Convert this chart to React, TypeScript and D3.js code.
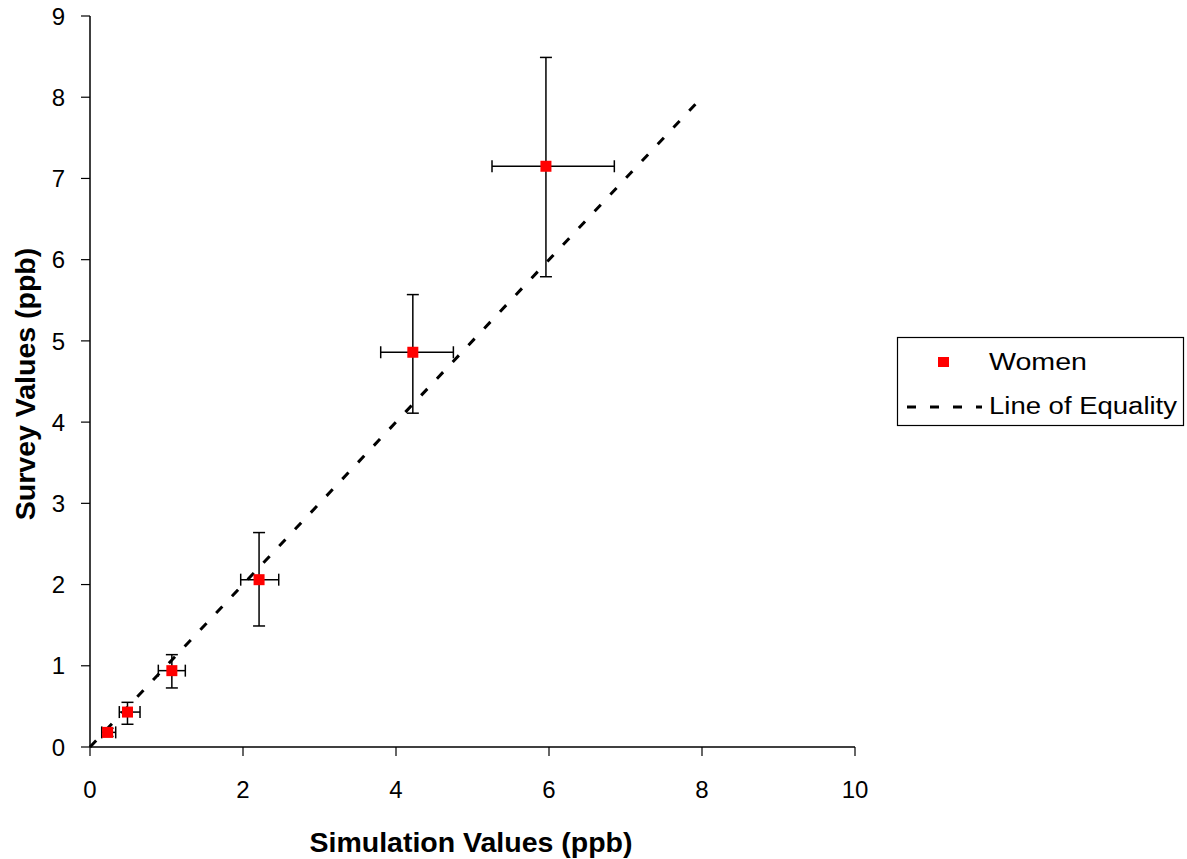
import React from "react";
import * as d3 from "d3";

// Survey vs simulation values (ppb), women; error bars are asymmetric
const simValues = [0.23, 0.49, 1.07, 2.21, 4.22, 5.96];
const surveyValues = [0.18, 0.43, 0.94, 2.06, 4.86, 7.15];
const simLow = [0.153, 0.383, 0.893, 1.97, 3.8, 5.255];
const simHigh = [0.336, 0.654, 1.246, 2.467, 4.75, 6.854];
const surveyLow = [0.13, 0.28, 0.727, 1.49, 4.11, 5.79];
const surveyHigh = [0.23, 0.55, 1.137, 2.64, 5.57, 8.49];

const equalityLine = [0, 8];
const xTicks = [0, 2, 4, 6, 8, 10];
const yTicks = [0, 1, 2, 3, 4, 5, 6, 7, 8, 9];

const W = 1187;
const H = 859;
const font = "'Liberation Sans', Arial, sans-serif";

export default function App() {
    const x = d3.scaleLinear().domain([0, 10]).range([90, 855]);
    const y = d3.scaleLinear().domain([0, 9]).range([747, 16]);
    const line = d3.line<number>().x((d) => x(d)).y((d) => y(d));
    const cap = 6;

    const points = simValues.map((v, i) => ({
        sx: v,
        sy: surveyValues[i],
        x0: simLow[i],
        x1: simHigh[i],
        y0: surveyLow[i],
        y1: surveyHigh[i],
    }));

    return (
        <svg
            width={W}
            height={H}
            style={{ position: "absolute", left: 0, top: 0, background: "#fff" }}
            fontFamily={font}
        >
            {/* y axis */}
            <line x1={x(0)} x2={x(0)} y1={y(0)} y2={y(9)} stroke="#000" strokeWidth={1.5} />
            {yTicks.map((t) => (
                <g key={"y" + t}>
                    <line x1={x(0) - 9} x2={x(0)} y1={y(t)} y2={y(t)} stroke="#000" strokeWidth={1.2} />
                    <text x={65} y={y(t)} dy="0.36em" textAnchor="end" fontSize={24}>
                        {t}
                    </text>
                </g>
            ))}
            {/* x axis */}
            <line x1={x(0)} x2={x(10)} y1={y(0)} y2={y(0)} stroke="#000" strokeWidth={1.5} />
            {xTicks.map((t) => (
                <g key={"x" + t}>
                    <line x1={x(t)} x2={x(t)} y1={y(0)} y2={y(0) + 9} stroke="#000" strokeWidth={1.2} />
                    <text x={x(t)} y={798} textAnchor="middle" fontSize={24}>
                        {t}
                    </text>
                </g>
            ))}
            <text x={471} y={852} textAnchor="middle" fontSize={28.5} fontWeight="bold">
                Simulation Values (ppb)
            </text>
            <text
                transform="translate(35, 384) rotate(-90)"
                textAnchor="middle"
                fontSize={28.5}
                fontWeight="bold"
            >
                Survey Values (ppb)
            </text>

            {/* line of equality */}
            <path
                d={line(equalityLine) || ""}
                fill="none"
                stroke="#000"
                strokeWidth={3}
                strokeDasharray="9,14"
            />

            {/* error bars and markers */}
            {points.map((p, i) => (
                <g key={"p" + i} stroke="#000" strokeWidth={1.5}>
                    <line x1={x(p.sx)} x2={x(p.sx)} y1={y(p.y0)} y2={y(p.y1)} />
                    <line x1={x(p.sx) - cap} x2={x(p.sx) + cap} y1={y(p.y0)} y2={y(p.y0)} />
                    <line x1={x(p.sx) - cap} x2={x(p.sx) + cap} y1={y(p.y1)} y2={y(p.y1)} />
                    <line x1={x(p.x0)} x2={x(p.x1)} y1={y(p.sy)} y2={y(p.sy)} />
                    <line x1={x(p.x0)} x2={x(p.x0)} y1={y(p.sy) - cap} y2={y(p.sy) + cap} />
                    <line x1={x(p.x1)} x2={x(p.x1)} y1={y(p.sy) - cap} y2={y(p.sy) + cap} />
                    <rect
                        x={x(p.sx) - 5.5}
                        y={y(p.sy) - 5.5}
                        width={11}
                        height={11}
                        fill="#ff0000"
                        stroke="none"
                    />
                </g>
            ))}

            {/* legend */}
            <rect x={897.5} y={337.5} width={286} height={88} fill="#fff" stroke="#000" strokeWidth={1.2} />
            <rect x={938} y={357} width={11} height={10} fill="#ff0000" />
            <text x={989} y={370} fontSize={23} textLength={98} lengthAdjust="spacingAndGlyphs">
                Women
            </text>
            <line x1={907} x2={982} y1={407} y2={407} stroke="#000" strokeWidth={3} strokeDasharray="9,14" />
            <text x={989} y={414} fontSize={23} textLength={188} lengthAdjust="spacingAndGlyphs">
                Line of Equality
            </text>
        </svg>
    );
}
